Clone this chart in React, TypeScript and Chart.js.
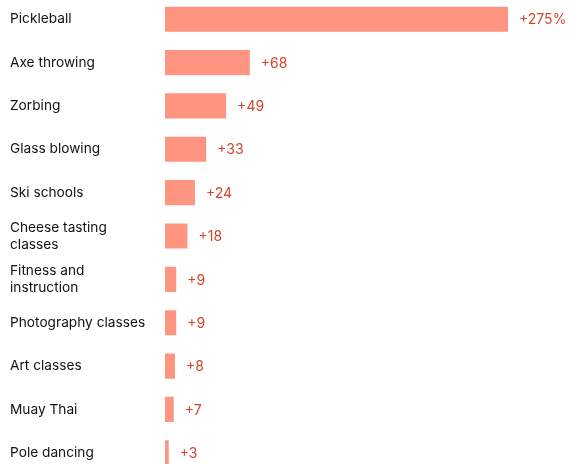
import React, { useEffect, useRef } from "react";
import { Chart, registerables } from "chart.js";

Chart.register(...registerables);

const categories: (string | string[])[] = [
  "Pickleball",
  "Axe throwing",
  "Zorbing",
  "Glass blowing",
  "Ski schools",
  ["Cheese tasting", "classes"],
  ["Fitness and", "instruction"],
  "Photography classes",
  "Art classes",
  "Muay Thai",
  "Pole dancing",
];
const growth = [275, 68, 49, 33, 24, 18, 9, 9, 8, 7, 3];
const valueLabels = ["+275%", "+68", "+49", "+33", "+24", "+18", "+9", "+9", "+8", "+7", "+3"];

const BAR_COLOR = "#ff9580";
const TEXT_COLOR = "#d4462a";

const valueLabelPlugin = {
  id: "valueLabels",
  afterDatasetsDraw(chart: any) {
    const ctx = chart.ctx;
    const meta = chart.getDatasetMeta(0);
    ctx.save();
    ctx.font = "14px Inter";
    (ctx as any).letterSpacing = "0px";
    ctx.fillStyle = TEXT_COLOR;
    ctx.textAlign = "left";
    ctx.textBaseline = "middle";
    meta.data.forEach((bar: any, i: number) => {
      ctx.fillText(valueLabels[i], bar.x + 11, bar.y + 1);
    });
    ctx.restore();
  },
};

export default function App() {
  const ref = useRef<HTMLCanvasElement | null>(null);
  useEffect(() => {
    if (!ref.current) return;
    const chart = new Chart(ref.current, {
      type: "bar",
      data: {
        labels: categories,
        datasets: [
          {
            data: growth,
            backgroundColor: BAR_COLOR,
            borderWidth: 0,
            categoryPercentage: 1,
            barPercentage: 0.58,
          },
        ],
      },
      options: {
        indexAxis: "y",
        animation: false,
        responsive: false,
        maintainAspectRatio: false,
        layout: { padding: { left: 10, right: 61, top: 0, bottom: 0 } },
        plugins: {
          legend: { display: false },
          tooltip: { enabled: false },
        },
        scales: {
          x: {
            min: 0,
            max: 275,
            display: false,
            grid: { display: false },
          },
          y: {
            grid: { display: false },
            border: { display: false },
            ticks: {
              crossAlign: "far",
              color: "#111111",
              font: { family: "Inter", size: 13.7, lineHeight: 1.25 },
              padding: 0,
            },
            afterFit(scale: any) {
              scale.width = 155;
            },
          },
        },
      },
      plugins: [valueLabelPlugin],
    });
    return () => chart.destroy();
  }, []);
  return (
    <div style={{ position: "fixed", left: 0, top: -11, width: 569, height: 494, background: "#fff" }}>
      <canvas ref={ref} width={569} height={494} style={{ width: 569, height: 494, display: "block" }} />
    </div>
  );
}
